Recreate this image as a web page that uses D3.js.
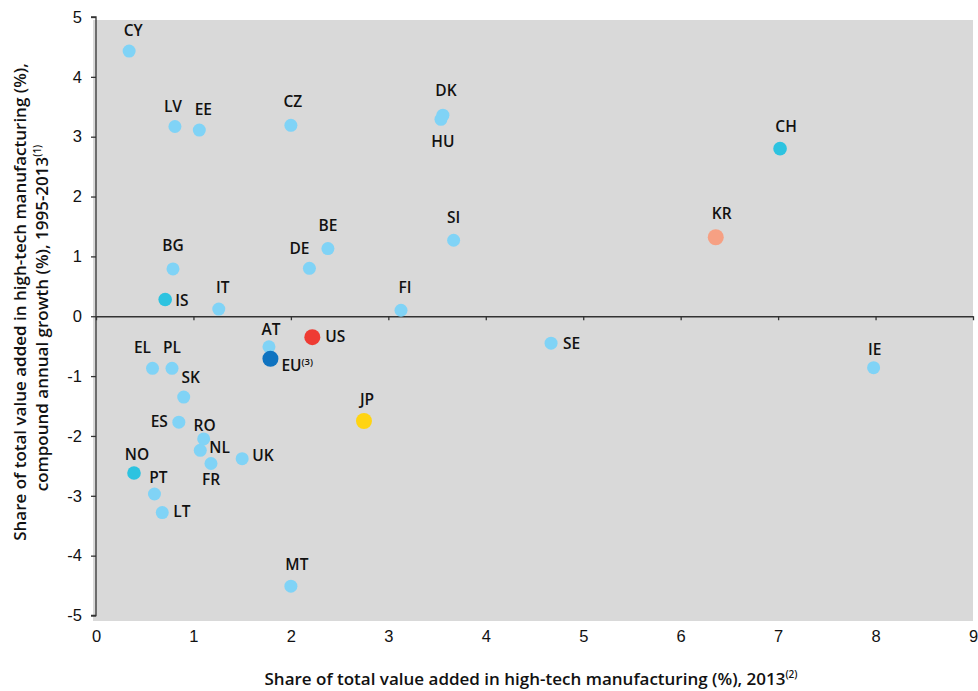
<!DOCTYPE html>
<html>
<head>
<meta charset="utf-8">
<script src="https://cdn.jsdelivr.net/npm/d3@7"></script>
<style>
  html, body { margin: 0; padding: 0; background: #ffffff; }
  svg { display: block; font-family: "Open Sans", "Noto Sans", sans-serif; }
</style>
</head>
<body>
<svg id="chart" width="978" height="691"></svg>
<script>
// ---- data ----
const countries = ["CY","LV","EE","CZ","DK","HU","SI","BE","DE","BG","IS","IT","FI","AT","EU","US","EL","PL","SK","ES","RO","NL","FR","UK","NO","PT","LT","MT","JP","SE","CH","KR","IE"];
const share2013 = [0.34,0.81,1.06,2.00,3.56,3.54,3.67,2.38,2.19,0.79,0.71,1.26,3.13,1.775,1.79,2.22,0.58,0.78,0.90,0.85,1.105,1.07,1.18,1.50,0.39,0.60,0.68,2.00,2.75,4.67,7.02,6.36,7.98];
const growth = [4.43,3.17,3.11,3.19,3.36,3.29,1.27,1.13,0.80,0.79,0.28,0.12,0.10,-0.51,-0.71,-0.35,-0.87,-0.87,-1.35,-1.77,-2.05,-2.24,-2.46,-2.38,-2.62,-2.97,-3.28,-4.51,-1.75,-0.45,2.80,1.32,-0.86];
const groups = ["member","member","member","member","member","member","member","member","member","member","other","member","member","member","EU","US","member","member","member","member","member","member","member","member","other","member","member","member","JP","member","other","KR","member"];
const labelSup = {"EU": "(3)"};
const xTicks = [0,1,2,3,4,5,6,7,8,9];
const yTicks = [-5,-4,-3,-2,-1,0,1,2,3,4,5];
const xTitle = "Share of total value added in high-tech manufacturing (%), 2013";
const xTitleSup = "(2)";
const yTitle1 = "Share of total value added in high-tech manufacturing (%),";
const yTitle2 = "compound annual growth (%), 1995-2013";
const yTitle2Sup = "(1)";

// ---- styles ----
const colors = {member: "#80d3f6", other: "#2dc3e0", EU: "#0f73c0", US: "#ee3b33", JP: "#ffd412", KR: "#f6a083"};
const radii = {member: 6.5, other: 6.8, EU: 8, US: 8, JP: 8, KR: 8};
// label placement: [dx, dy(baseline), anchor]
const labelPos = {
  CY:[4,-15,"middle"], LV:[-2,-15,"middle"], EE:[4,-15,"middle"], CZ:[2,-18,"middle"],
  DK:[3,-19,"middle"], HU:[2,28,"middle"], SI:[0,-17,"middle"], BE:[0,-18,"middle"],
  DE:[-10,-14,"middle"], BG:[0,-18,"middle"], IS:[10,7,"start"], IT:[4,-16,"middle"],
  FI:[4,-17,"middle"], AT:[2,-12,"middle"], EU:[11,12,"start"], US:[13,5,"start"],
  EL:[-10,-15,"middle"], PL:[0,-15,"middle"], SK:[7,-14,"middle"], ES:[-11,5,"end"],
  RO:[1,-8,"middle"], NL:[9,3,"start"], FR:[0,22,"middle"], UK:[10,2,"start"],
  NO:[3,-13,"middle"], PT:[4,-11,"middle"], LT:[11,4,"start"], MT:[6,-16,"middle"],
  JP:[3,-16,"middle"], SE:[12,6,"start"], CH:[6,-17,"middle"], KR:[6,-18,"middle"],
  IE:[1,-13,"middle"]
};

const data = countries.map((c, i) => ({c, x: share2013[i], y: growth[i], g: groups[i]}));

const svg = d3.select("#chart");
const x = d3.scaleLinear().domain([0, 9]).range([96, 973]);
const y = d3.scaleLinear().domain([-5, 5]).range([615.5, 17]);

// plot background
svg.append("rect")
  .attr("x", 93).attr("y", 20)
  .attr("width", 973 - 93).attr("height", 621 - 20)
  .attr("fill", "#d9d9d9");

// y axis
const yAxis = svg.append("g")
  .attr("transform", `translate(${x(0)},0)`)
  .call(d3.axisLeft(y).tickValues(yTicks).tickSize(5).tickPadding(9).tickFormat(d => String(d)));
yAxis.select(".domain").attr("stroke", "#333").attr("stroke-width", 1.3).attr("d", `M-5,${y(5)}H0V${y(-5)}H-5`);
yAxis.selectAll(".tick line").attr("stroke", "#333").attr("stroke-width", 1.3);
yAxis.selectAll(".tick text").attr("font-size", 16.5).attr("font-weight", 500).attr("fill", "#111");

// x axis line at y=0 with ticks
const xAxisLine = svg.append("g")
  .attr("transform", `translate(0,${y(0)})`)
  .call(d3.axisBottom(x).tickValues(xTicks).tickSize(4).tickSizeOuter(0).tickFormat(""));
xAxisLine.select(".domain").attr("stroke", "#333").attr("stroke-width", 1.3);
xAxisLine.selectAll(".tick line").attr("stroke", "#333").attr("stroke-width", 1.3);

// x tick labels at bottom
const xLabels = svg.append("g")
  .attr("transform", `translate(0,621)`)
  .call(d3.axisBottom(x).tickValues(xTicks).tickSize(0).tickPadding(9).tickFormat(d => String(d)));
xLabels.select(".domain").remove();
xLabels.selectAll(".tick text").attr("font-size", 16.5).attr("font-weight", 500).attr("fill", "#111");

// points
svg.append("g").selectAll("circle")
  .data(data)
  .join("circle")
  .attr("cx", d => x(d.x))
  .attr("cy", d => y(d.y))
  .attr("r", d => radii[d.g])
  .attr("fill", d => colors[d.g]);

// labels
const lab = svg.append("g").selectAll("text")
  .data(data)
  .join("text")
  .attr("x", d => x(d.x) + labelPos[d.c][0])
  .attr("y", d => y(d.y) + labelPos[d.c][1])
  .attr("text-anchor", d => labelPos[d.c][2])
  .attr("font-size", 15.5)
  .attr("font-weight", 600)
  .attr("fill", "#111");
lab.append("tspan").text(d => d.c);
lab.filter(d => labelSup[d.c]).append("tspan")
  .attr("font-size", 9.5).attr("dy", -6).text(d => labelSup[d.c]);

// x title
const xt = svg.append("text")
  .attr("x", 531).attr("y", 685)
  .attr("text-anchor", "middle")
  .attr("font-size", 17).attr("font-weight", 600).attr("fill", "#111");
xt.append("tspan").text(xTitle);
xt.append("tspan").attr("font-size", 10).attr("dy", -7).text(xTitleSup);

// y title
svg.append("text")
  .attr("transform", "translate(26,302) rotate(-90)")
  .attr("text-anchor", "middle")
  .attr("font-size", 17).attr("font-weight", 600).attr("fill", "#111")
  .text(yTitle1);
const yt2 = svg.append("text")
  .attr("transform", "translate(48,318) rotate(-90)")
  .attr("text-anchor", "middle")
  .attr("font-size", 17).attr("font-weight", 600).attr("fill", "#111");
yt2.append("tspan").text(yTitle2);
yt2.append("tspan").attr("font-size", 10).attr("dy", -7).text(yTitle2Sup);
</script>
</body>
</html>
